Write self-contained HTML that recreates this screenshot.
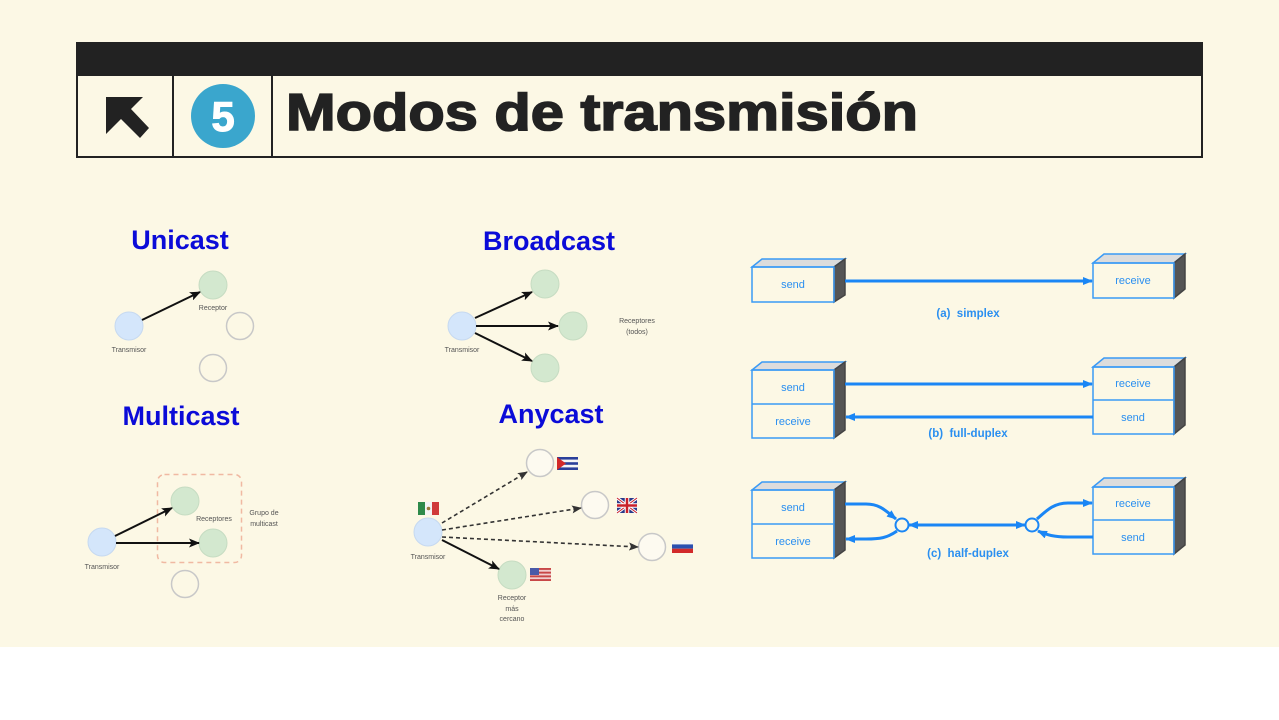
<!DOCTYPE html>
<html><head><meta charset="utf-8"><style>
html,body{margin:0;padding:0;background:#fff;}
body{width:1279px;height:720px;overflow:hidden;}
svg{display:block;}
</style></head><body>
<svg width="1279" height="720" viewBox="0 0 1279 720" xmlns="http://www.w3.org/2000/svg" font-family="Liberation Sans, Arial, sans-serif">
<defs>
<marker id="ab" markerUnits="userSpaceOnUse" markerWidth="11" markerHeight="9" refX="10" refY="4.5" orient="auto"><path d="M0,0 L11,4.5 L0,9 L2.5,4.5 z" fill="#111"/></marker>
<marker id="ag" markerUnits="userSpaceOnUse" markerWidth="10" markerHeight="8" refX="9" refY="4" orient="auto"><path d="M0,0 L10,4 L0,8 L2,4 z" fill="#333"/></marker>
<marker id="bl" markerUnits="userSpaceOnUse" markerWidth="10" markerHeight="8" refX="9" refY="4" orient="auto"><path d="M0,0 L10,4 L0,8 z" fill="#1a86f5"/></marker>
</defs>
<rect x="0" y="0" width="1279" height="647" fill="#fcf8e5"/>
<rect x="0" y="647" width="1279" height="73" fill="#ffffff"/>

<!-- Header -->
<rect x="76" y="42" width="1127" height="34" fill="#222"/>
<rect x="77" y="75" width="1125" height="82" fill="none" stroke="#222" stroke-width="2"/>
<line x1="173" y1="76" x2="173" y2="157" stroke="#222" stroke-width="2"/>
<line x1="272" y1="76" x2="272" y2="157" stroke="#222" stroke-width="2"/>
<polygon points="106,97 143,97 131,109 149,128 140,138 121,119 106,134" fill="#222"/>
<circle cx="223" cy="116" r="32" fill="#3aa6cd"/>
<text x="223" y="131" text-anchor="middle" font-size="42" font-weight="bold" fill="#fff" stroke="#fff" stroke-width="1">5</text>
<text x="286" y="130" font-size="52" font-weight="bold" fill="#222" stroke="#222" stroke-width="1.6" textLength="632" lengthAdjust="spacingAndGlyphs">Modos de transmisión</text>

<!-- Titles -->
<g font-weight="bold" font-size="27" fill="#0b0bd8" text-anchor="middle">
<text x="180" y="249">Unicast</text>
<text x="549" y="250">Broadcast</text>
<text x="181" y="425">Multicast</text>
<text x="551" y="423">Anycast</text>
</g>

<g font-size="7" fill="#555" text-anchor="middle">
<!-- Unicast -->
<circle cx="129" cy="326" r="14" fill="#d4e6fb" stroke="#c6d9f0" stroke-width="1"/>
<circle cx="213" cy="285" r="14" fill="#d3e8cf" stroke="#c6dcc2" stroke-width="1"/>
<circle cx="240" cy="326" r="13.5" fill="none" stroke="#c8c8c8" stroke-width="1.5"/>
<circle cx="213" cy="368" r="13.5" fill="none" stroke="#c8c8c8" stroke-width="1.5"/>
<line x1="142" y1="320" x2="200" y2="292" stroke="#111" stroke-width="2" marker-end="url(#ab)"/>
<text x="129" y="352">Transmisor</text>
<text x="213" y="310">Receptor</text>

<!-- Broadcast -->
<circle cx="462" cy="326" r="14" fill="#d4e6fb" stroke="#c6d9f0" stroke-width="1"/>
<circle cx="545" cy="284" r="14" fill="#d3e8cf" stroke="#c6dcc2" stroke-width="1"/>
<circle cx="573" cy="326" r="14" fill="#d3e8cf" stroke="#c6dcc2" stroke-width="1"/>
<circle cx="545" cy="368" r="14" fill="#d3e8cf" stroke="#c6dcc2" stroke-width="1"/>
<line x1="475" y1="318" x2="532" y2="292" stroke="#111" stroke-width="2" marker-end="url(#ab)"/>
<line x1="476" y1="326" x2="558" y2="326" stroke="#111" stroke-width="2" marker-end="url(#ab)"/>
<line x1="475" y1="333" x2="532" y2="361" stroke="#111" stroke-width="2" marker-end="url(#ab)"/>
<text x="462" y="352">Transmisor</text>
<text x="637" y="323">Receptores</text>
<text x="637" y="334">(todos)</text>

<!-- Multicast -->
<rect x="157.5" y="474.5" width="84" height="88" rx="7" fill="none" stroke="#f0b9a2" stroke-width="1.5" stroke-dasharray="5,4"/>
<circle cx="102" cy="542" r="14" fill="#d4e6fb" stroke="#c6d9f0" stroke-width="1"/>
<circle cx="185" cy="501" r="14" fill="#d3e8cf" stroke="#c6dcc2" stroke-width="1"/>
<circle cx="213" cy="543" r="14" fill="#d3e8cf" stroke="#c6dcc2" stroke-width="1"/>
<circle cx="185" cy="584" r="13.5" fill="none" stroke="#c8c8c8" stroke-width="1.5"/>
<line x1="115" y1="536" x2="172" y2="508" stroke="#111" stroke-width="2" marker-end="url(#ab)"/>
<line x1="116" y1="543" x2="199" y2="543" stroke="#111" stroke-width="2" marker-end="url(#ab)"/>
<text x="102" y="569">Transmisor</text>
<text x="214" y="521">Receptores</text>
<text x="264" y="515">Grupo de</text>
<text x="264" y="526">multicast</text>

<!-- Anycast -->
<circle cx="428" cy="532" r="14" fill="#d4e6fb" stroke="#c6d9f0" stroke-width="1"/>
<circle cx="540" cy="463" r="13.5" fill="#fdfaf0" stroke="#c8c8c8" stroke-width="1.5"/>
<circle cx="595" cy="505" r="13.5" fill="#fdfaf0" stroke="#c8c8c8" stroke-width="1.5"/>
<circle cx="652" cy="547" r="13.5" fill="#fdfaf0" stroke="#c8c8c8" stroke-width="1.5"/>
<circle cx="512" cy="575" r="14" fill="#d3e8cf" stroke="#c6dcc2" stroke-width="1"/>
<line x1="442" y1="523" x2="527" y2="472" stroke="#333" stroke-width="1.6" stroke-dasharray="4,3" marker-end="url(#ag)"/>
<line x1="442" y1="530" x2="581" y2="508" stroke="#333" stroke-width="1.6" stroke-dasharray="4,3" marker-end="url(#ag)"/>
<line x1="442" y1="537" x2="638" y2="547" stroke="#333" stroke-width="1.6" stroke-dasharray="4,3" marker-end="url(#ag)"/>
<line x1="442" y1="540" x2="499" y2="569" stroke="#111" stroke-width="2" marker-end="url(#ab)"/>
<text x="428" y="559">Transmisor</text>
<text x="512" y="600">Receptor</text>
<text x="512" y="611">más</text>
<text x="512" y="621">cercano</text>
</g>

<!-- Flags -->
<rect x="418" y="502" width="7" height="13" fill="#2e8a4a"/>
<rect x="425" y="502" width="7" height="13" fill="#f4f4f4"/>
<rect x="432" y="502" width="7" height="13" fill="#d03a3a"/>
<circle cx="428.5" cy="508.5" r="1.8" fill="#9a7a3a"/>
<rect x="557" y="457" width="21" height="13" fill="#f4f4f4"/>
<rect x="557" y="457" width="21" height="2.6" fill="#2a3f9a"/>
<rect x="557" y="462.2" width="21" height="2.6" fill="#2a3f9a"/>
<rect x="557" y="467.4" width="21" height="2.6" fill="#2a3f9a"/>
<polygon points="557,457 566,463.5 557,470" fill="#d22a2a"/>
<rect x="617" y="498" width="20" height="15" fill="#2b3a8a"/>
<path d="M617,498 L637,513 M637,498 L617,513" stroke="#fff" stroke-width="3"/>
<path d="M617,498 L637,513 M637,498 L617,513" stroke="#c8202a" stroke-width="1"/>
<path d="M627,498 V513 M617,505.5 H637" stroke="#fff" stroke-width="4.5"/>
<path d="M627,498 V513 M617,505.5 H637" stroke="#c8202a" stroke-width="2.5"/>
<rect x="672" y="540" width="21" height="4.4" fill="#f4f4f4"/>
<rect x="672" y="544.4" width="21" height="4.3" fill="#2a4fb0"/>
<rect x="672" y="548.7" width="21" height="4.3" fill="#d22a2a"/>
<rect x="530" y="568" width="21" height="13" fill="#f0d0d0"/>
<rect x="530" y="568" width="21" height="1.9" fill="#c84848"/>
<rect x="530" y="571.7" width="21" height="1.9" fill="#c84848"/>
<rect x="530" y="575.4" width="21" height="1.9" fill="#c84848"/>
<rect x="530" y="579.1" width="21" height="1.9" fill="#c84848"/>
<rect x="530" y="568" width="9" height="7" fill="#4a5aa8"/>

<!-- Right-side diagrams -->
<g stroke="#3a9af5" stroke-width="1.5">
<polygon points="752,267 762,259 845,259 834,267" fill="#dcdcdc"/>
<polygon points="834,267 845,259 845,295 834,302" fill="#555" stroke="#444"/>
<rect x="752" y="267" width="82" height="35" fill="none"/>
<polygon points="1093,263 1104,254 1185,254 1174,263" fill="#dcdcdc"/>
<polygon points="1174,263 1185,254 1185,289 1174,298" fill="#555" stroke="#444"/>
<rect x="1093" y="263" width="81" height="35" fill="none"/>

<polygon points="752,370 762,362 845,362 834,370" fill="#dcdcdc"/>
<polygon points="834,370 845,362 845,430 834,438" fill="#555" stroke="#444"/>
<rect x="752" y="370" width="82" height="68" fill="none"/>
<line x1="752" y1="404" x2="834" y2="404"/>
<polygon points="1093,367 1104,358 1185,358 1174,367" fill="#dcdcdc"/>
<polygon points="1174,367 1185,358 1185,425 1174,434" fill="#555" stroke="#444"/>
<rect x="1093" y="367" width="81" height="67" fill="none"/>
<line x1="1093" y1="400" x2="1174" y2="400"/>

<polygon points="752,490 762,482 845,482 834,490" fill="#dcdcdc"/>
<polygon points="834,490 845,482 845,550 834,558" fill="#555" stroke="#444"/>
<rect x="752" y="490" width="82" height="68" fill="none"/>
<line x1="752" y1="524" x2="834" y2="524"/>
<polygon points="1093,487 1104,478 1185,478 1174,487" fill="#dcdcdc"/>
<polygon points="1174,487 1185,478 1185,545 1174,554" fill="#555" stroke="#444"/>
<rect x="1093" y="487" width="81" height="67" fill="none"/>
<line x1="1093" y1="520" x2="1174" y2="520"/>
</g>

<g stroke="#1a86f5" stroke-width="3" fill="none">
<line x1="845" y1="281" x2="1092" y2="281" marker-end="url(#bl)"/>
<line x1="845" y1="384" x2="1092" y2="384" marker-end="url(#bl)"/>
<line x1="1093" y1="417" x2="846" y2="417" marker-end="url(#bl)"/>
<path d="M845,504 L866,504 C880,504 886,511 896,519" marker-end="url(#bl)"/>
<path d="M897,531 C887,538 880,539 866,539 L846,539" marker-end="url(#bl)"/>
<line x1="1000" y1="525" x2="1025" y2="525" marker-end="url(#bl)"/>
<line x1="960" y1="525" x2="909" y2="525" marker-end="url(#bl)"/>
<line x1="960" y1="525" x2="1000" y2="525"/>
<path d="M1037,519 C1047,510 1054,503 1068,503 L1092,503" marker-end="url(#bl)"/>
<path d="M1093,537 L1068,537 C1054,537 1047,535 1038,531" marker-end="url(#bl)"/>
</g>
<circle cx="902" cy="525" r="6.5" fill="#fcf8e5" stroke="#1a86f5" stroke-width="2"/>
<circle cx="1032" cy="525" r="6.5" fill="#fcf8e5" stroke="#1a86f5" stroke-width="2"/>

<g font-size="11" fill="#2a8ff0" text-anchor="middle" font-weight="500">
<text x="793" y="288">send</text>
<text x="1133" y="284">receive</text>
<text x="793" y="391">send</text>
<text x="793" y="425">receive</text>
<text x="1133" y="387">receive</text>
<text x="1133" y="421">send</text>
<text x="793" y="511">send</text>
<text x="793" y="545">receive</text>
<text x="1133" y="507">receive</text>
<text x="1133" y="541">send</text>
</g>
<g font-size="11.5" font-weight="bold" fill="#2a8ff0" text-anchor="middle">
<text x="968" y="317" xml:space="preserve">(a)  simplex</text>
<text x="968" y="437" xml:space="preserve">(b)  full-duplex</text>
<text x="968" y="557" xml:space="preserve">(c)  half-duplex</text>
</g>
</svg>
</body></html>
